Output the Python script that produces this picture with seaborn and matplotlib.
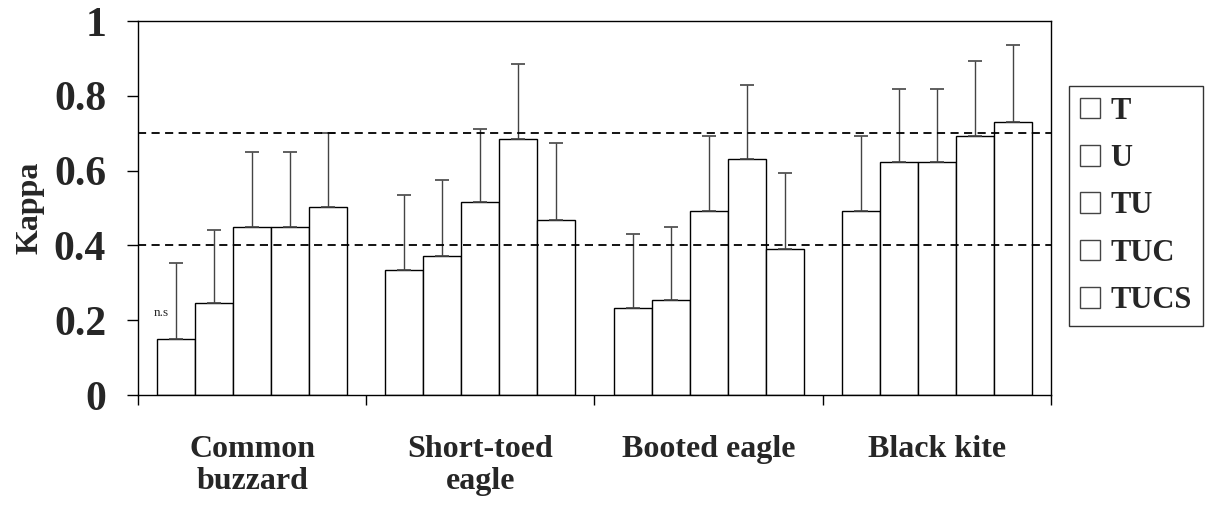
import numpy as np
import pandas as pd
import matplotlib
matplotlib.use("Agg")
import matplotlib.pyplot as plt
import matplotlib.patches as mpatches
from matplotlib.ticker import FixedLocator
import seaborn as sns

# Kappa statistics per species and model
species = ["Common\nbuzzard", "Short-toed\neagle", "Booted eagle", "Black kite"]
models = ["T", "U", "TU", "TUC", "TUCS"]

kappa_T = [0.15, 0.333, 0.234, 0.492]
kappa_U = [0.245, 0.371, 0.253, 0.623]
kappa_TU = [0.45, 0.515, 0.492, 0.623]
kappa_TUC = [0.45, 0.684, 0.632, 0.692]
kappa_TUCS = [0.502, 0.469, 0.39, 0.73]

# upper end of each error bar
upper_T = [0.352, 0.534, 0.430, 0.692]
upper_U = [0.441, 0.575, 0.449, 0.818]
upper_TU = [0.65, 0.711, 0.692, 0.818]
upper_TUC = [0.65, 0.884, 0.829, 0.893]
upper_TUCS = [0.70, 0.674, 0.594, 0.936]

thresholds = [0.4, 0.7]

kappa = [kappa_T, kappa_U, kappa_TU, kappa_TUC, kappa_TUCS]
upper = [upper_T, upper_U, upper_TU, upper_TUC, upper_TUCS]

rows = []
for m, vals, ups in zip(models, kappa, upper):
    for s, v, u in zip(species, vals, ups):
        rows.append({"species": s, "model": m, "kappa": v, "upper": u})
df = pd.DataFrame(rows)

sns.set_style("white")
plt.rcParams["font.family"] = ["Liberation Serif", "DejaVu Serif"]
plt.rcParams["font.weight"] = "bold"

fig = plt.figure(figsize=(12.05, 5.08), dpi=100)
ax = fig.add_axes([0.1145, 0.2224, 0.7577, 0.7362])

sns.barplot(data=df, x="species", y="kappa", hue="model", order=species,
            hue_order=models, palette=["white"] * 5, edgecolor="black",
            linewidth=1.0, width=0.833, gap=0, errorbar=None, legend=False,
            ax=ax)

# one-sided error bars placed on each bar's centre
for cont, m in zip(ax.containers, models):
    sub = df[df["model"] == m].set_index("species").loc[species]
    xs = [p.get_x() + p.get_width() / 2 for p in cont.patches]
    tops = sub["kappa"].to_numpy()
    ups = sub["upper"].to_numpy()
    ax.errorbar(xs, tops, yerr=[np.zeros_like(tops), ups - tops], fmt="none",
                ecolor="#444444", elinewidth=1.0, capsize=4.7, capthick=1.2,
                zorder=1)

for t in thresholds:
    ax.axhline(t, color="black", linestyle=(0, (4.5, 3)), linewidth=1.3,
               zorder=3)

# "n.s" note beside the first bar
first = ax.containers[0].patches[0]
ax.text(first.get_x() + 0.1 * first.get_width(), 0.22, "n.s",
        ha="center", va="center", fontsize=9.5, fontweight="normal")

ax.set_xlim(-0.5, len(species) - 0.5)
ax.set_ylim(0, 1)
ax.set_yticks([0, 0.2, 0.4, 0.6, 0.8, 1.0])
ax.set_yticklabels(["0", "0.2", "0.4", "0.6", "0.8", "1"], fontsize=30,
                   fontweight="bold")
ax.set_xticks(range(len(species)))
ax.set_xticklabels(species, fontsize=23, fontweight="bold", linespacing=1.12,
                   va="top")
ax.xaxis.set_minor_locator(FixedLocator(np.arange(-0.5, len(species), 1.0)))
ax.tick_params(axis="x", which="major", length=0, pad=29)
ax.tick_params(axis="x", which="minor", length=7, width=1, color="black",
               direction="out", bottom=True)
ax.tick_params(axis="y", which="major", length=8, width=1, color="black",
               direction="out", left=True, pad=15)

ax.set_xlabel("")
ax.set_ylabel("Kappa", fontsize=23, fontweight="bold", labelpad=7)

for sp in ax.spines.values():
    sp.set_visible(True)
    sp.set_color("black")
    sp.set_linewidth(1.0)

handles = [mpatches.Patch(facecolor="white", edgecolor="#444444",
                          linewidth=1.0) for _ in models]
leg = fig.legend(handles, models, loc="lower left",
                 bbox_to_anchor=(0.887, 0.358),
                 bbox_transform=fig.transFigure, frameon=True, fancybox=False,
                 prop={"family": "Liberation Serif", "weight": "bold",
                       "size": 22},
                 handlelength=0.66, handleheight=0.66, handletextpad=0.35,
                 labelspacing=0.6, borderpad=0.36, borderaxespad=0)
leg.get_frame().set_edgecolor("black")
leg.get_frame().set_linewidth(1.0)

fig.savefig("out.png", dpi=100, facecolor="white")
